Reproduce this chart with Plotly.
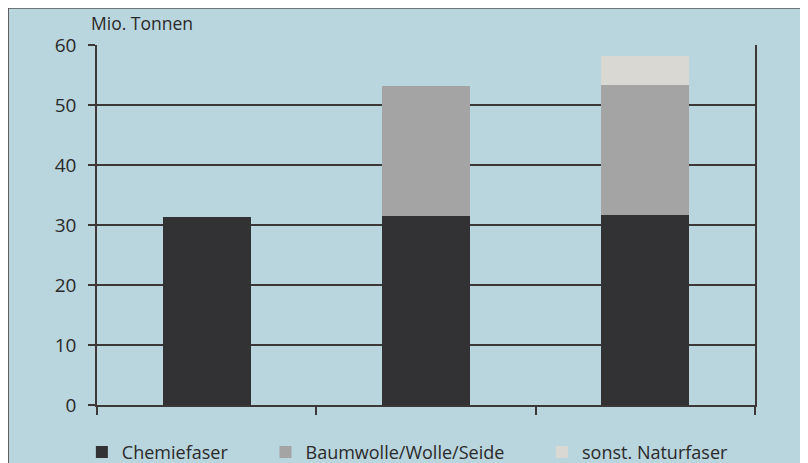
import plotly.graph_objects as go

# Data
saeulen = ["A", "B", "C"]
chemiefaser = [31.3, 31.5, 31.6]
baumwolle_wolle_seide = [0, 21.7, 21.8]
sonst_naturfaser = [0, 0, 4.8]
y_ticks = [0, 10, 20, 30, 40, 50, 60]
legend_names = ["Chemiefaser", "Baumwolle/Wolle/Seide", "sonst. Naturfaser"]

BG = "#b9d5dd"
LINE = "#3c3838"
FONT = "Open Sans"
PAD = "\u00a0" * 7

fig = go.Figure()
fig.add_bar(x=saeulen, y=chemiefaser, name=legend_names[0] + PAD,
            marker=dict(color="#323234", line=dict(width=0)))
fig.add_bar(x=saeulen, y=baumwolle_wolle_seide, name=legend_names[1] + PAD,
            marker=dict(color="#a4a4a4", line=dict(width=0)))
fig.add_bar(x=saeulen, y=sonst_naturfaser, name=legend_names[2],
            marker=dict(color="#d9d8d3", line=dict(width=0)))

fig.update_layout(
    barmode="stack",
    bargap=0.6,
    width=808, height=463,
    margin=dict(l=89, r=61, t=37, b=66, autoexpand=False),
    paper_bgcolor=BG, plot_bgcolor=BG,
    font=dict(family=FONT, size=18, color="#2a2a2a"),
    showlegend=True,
    legend=dict(orientation="h", x=-0.023, xanchor="left", y=-0.08, yanchor="top",
                bgcolor="rgba(0,0,0,0)", font=dict(family=FONT, size=18, color="#2a2a2a"),
                traceorder="normal"),
    xaxis=dict(type="category", range=[-0.5, 2.5], tickson="boundaries",
               showticklabels=False, ticks="outside", ticklen=8, tickwidth=1.5,
               tickcolor=LINE, showgrid=False, showline=True, linecolor=LINE,
               linewidth=1.5, zeroline=False),
    yaxis=dict(range=[0, 60], tickvals=y_ticks, ticks="outside", ticklen=7,
               tickwidth=1.5, tickcolor=LINE, showgrid=True, gridcolor=LINE,
               gridwidth=1.5, showline=True, linecolor=LINE, linewidth=1.5,
               mirror=True, zeroline=False, ticklabelstandoff=8,
               tickfont=dict(family=FONT, size=19, color="#2a2a2a")),
    annotations=[dict(text="Mio. Tonnen", xref="paper", yref="paper",
                      x=-0.012, y=1.06, xanchor="left", yanchor="middle",
                      showarrow=False, font=dict(family=FONT, size=17.5, color="#2a2a2a"))],
    shapes=[dict(type="rect", xref="paper", yref="paper",
                 x0=-0.135, x1=1.3, y0=-0.4, y1=1.103,
                 line=dict(color="#555555", width=1.5), layer="below")],
)

fig.write_html("out.html")
